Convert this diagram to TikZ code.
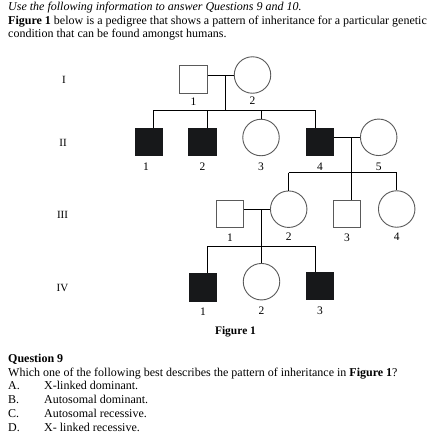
\documentclass[tikz,border=0pt]{standalone}
\usepackage{fontspec}
\setmainfont{Liberation Serif}
\usetikzlibrary{calc}
\definecolor{fillsq}{HTML}{17181A}
\definecolor{edge}{HTML}{5A5A5A}
\tikzset{
  male/.style={rectangle, draw=edge, line width=0.9pt, minimum size=27.5pt, inner sep=0pt},
  affected/.style={male, fill=fillsq, draw=fillsq},
  female/.style={circle, draw=edge, line width=0.9pt, minimum size=36.5pt, inner sep=0pt},
  link/.style={draw=black, line width=0.9pt},
  num/.style={anchor=base, inner sep=0pt, font=\fontsize{11.5}{13}\selectfont},
  txt/.style={anchor=base west, inner sep=0pt, font=\fontsize{12}{13.8}\selectfont},
  gen/.style={anchor=base, inner sep=0pt, font=\fontsize{11}{13}\selectfont},
}
\begin{document}
\begin{tikzpicture}[x=1pt,y=-1pt]
\useasboundingbox (0,0) rectangle (440,442);
\fill[white] (0,0) rectangle (440,442);

% header text
\node[txt] (h1) at (8,10.7) {\itshape Use the following information to answer Questions 9 and 10.};
\node[txt] (h2) at (8,24.7) {\textbf{Figure 1} below is a pedigree that shows a pattern of inheritance for a particular genetic};
\node[txt] (h3) at (8,37.7) {condition that can be found amongst humans.};

% generation labels
\node[gen] (gI) at (64,83) {I};
\node[gen] (gII) at (63,146.5) {II};
\node[gen] (gIII) at (62.5,218) {III};
\node[gen] (gIV) at (62.5,291) {IV};

% generation I
\node[male] (I1) at (193.5,79.5) {};
\node[female] (I2) at (252.5,75) {};
% generation II
\node[affected] (II1) at (149,142) {};
\node[affected] (II2) at (202.5,142) {};
\node[female] (II3) at (261,137.5) {};
\node[affected] (II4) at (320,142) {};
\node[female] (II5) at (378.7,137.3) {};
% generation III
\node[male] (III1) at (230,214) {};
\node[female] (III2) at (288.7,209.2) {};
\node[male] (III3) at (347,214) {};
\node[female] (III4) at (396.7,209) {};
% generation IV
\node[affected] (IV1) at (203,287.5) {};
\node[female] (IV2) at (261.5,281.7) {};
\node[affected] (IV3) at (320,286) {};

% number labels
\node[num] (lI1) at ($(I1.south)+(0,12)$) {1};
\node[num] (lI2) at ($(I2.south)+(0,11)$) {2};
\node[num] (lII1) at ($(II1.south)+(-3,14)$) {1};
\node[num] (lII2) at ($(II2.south)+(0,14)$) {2};
\node[num] (lII3) at ($(II3.south)+(0,14)$) {3};
\node[num] (lII4) at ($(II4.south)+(0,14)$) {4};
\node[num] (lII5) at ($(II5.south)+(0,14)$) {5};
\node[num] (lIII1) at ($(III1.south)+(0,13)$) {1};
\node[num] (lIII2) at ($(III2.south)+(0,13)$) {2};
\node[num] (lIII3) at ($(III3.south)+(0,13)$) {3};
\node[num] (lIII4) at ($(III4.south)+(0,13)$) {4};
\node[num] (lIV1) at ($(IV1.south)+(0,13.5)$) {1};
\node[num] (lIV2) at ($(IV2.south)+(0,14)$) {2};
\node[num] (lIV3) at ($(IV3.south)+(0,14)$) {3};

% coordinates of descent lines
\coordinate (mI) at (225,75);
\coordinate (sI) at (225,110);
\coordinate (dII1) at (153.3,110);
\coordinate (dII2) at (207.3,110);
\coordinate (dII3) at (261,110);
\coordinate (dII4) at (315.7,110);
\coordinate (mII) at (351.7,137.4);
\coordinate (sII) at (351.7,172.7);
\coordinate (dIII2) at (288.7,172.7);
\coordinate (dIII4) at (396.7,172.7);
\coordinate (mIII) at (261.3,209.3);
\coordinate (sIII) at (261.3,246.3);
\coordinate (dIV1) at (207.3,246.3);
\coordinate (dIV3) at (315.3,246.3);

% gen I family
\draw[link] (I1.east |- I2.west) -- (I2.west);
\draw[link] (mI) -- (sI);
\draw[link] (dII1) -- (dII4);
\draw[link] (dII1) -- (dII1 |- II1.north);
\draw[link] (dII2) -- (dII2 |- II2.north);
\draw[link] (dII3) -- (II3.north);
\draw[link] (dII4) -- (dII4 |- II4.north);

% gen II family
\draw[link] (II4.east |- II5.west) -- (II5.west);
\draw[link] (mII) -- (sII);
\draw[link] (dIII2) -- (dIII4);
\draw[link] (dIII2) -- (III2.north);
\draw[link] (sII) -- (sII |- III3.north);
\draw[link] (dIII4) -- (III4.north);

% gen III family
\draw[link] (III1.east |- III2.west) -- (III2.west);
\draw[link] (mIII) -- (sIII);
\draw[link] (dIV1) -- (dIV3);
\draw[link] (dIV1) -- (dIV1 |- IV1.north);
\draw[link] (sIII) -- (sIII |- IV2.north);
\draw[link] (dIV3) -- (dIV3 |- IV3.north);

% caption
\node[anchor=base, inner sep=0pt, font=\fontsize{11.5}{13}\selectfont\bfseries] (cap) at (235.5,334.3) {Figure 1};

% question
\node[txt] (q) at (8,362.7) {\bfseries Question 9};
\node[txt] (q1) at (8,376) {Which one of the following best describes the pattern of inheritance in \textbf{Figure 1}?};
\node[txt] (oA) at (8,389.3) {A.};
\node[txt] (tA) at (44,389.3) {X-linked dominant.};
\node[txt] (oB) at (8,403.3) {B.};
\node[txt] (tB) at (44,403.3) {Autosomal dominant.};
\node[txt] (oC) at (8,417) {C.};
\node[txt] (tC) at (44,417) {Autosomal recessive.};
\node[txt] (oD) at (8,431) {D.};
\node[txt] (tD) at (44,431) {X- linked recessive.};
\end{tikzpicture}
\end{document}
